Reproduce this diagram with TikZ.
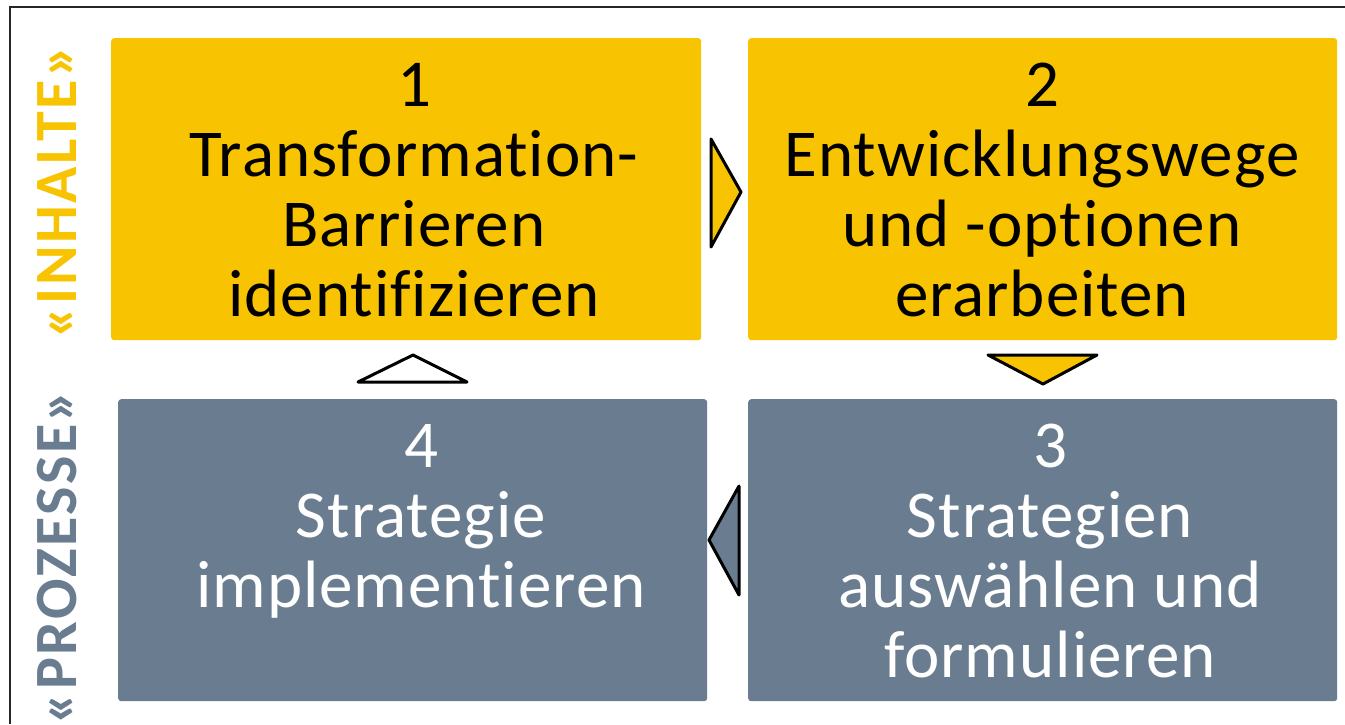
\documentclass[tikz,border=0pt]{standalone}
\usepackage{fontspec}
\setmainfont{Carlito}
\newfontfamily\boxfont[LetterSpace=1.5, Ligatures={NoCommon}]{Carlito}
\newfontfamily\labfont[LetterSpace=4]{Carlito Bold}
\usetikzlibrary{calc}
\definecolor{ygold}{RGB}{248,195,0}
\definecolor{sgrey}{RGB}{106,125,144}
\tikzset{
  boxshape/.style={rounded corners=3pt, inner sep=0pt, anchor=north west, minimum height=302pt},
  ybox/.style={boxshape, fill=ygold},
  gbox/.style={boxshape, fill=sgrey},
  txt/.style={anchor=north, inner sep=0pt, align=center, font=\boxfont\fontsize{67}{70}\selectfont},
  lab/.style={rotate=90, inner sep=0pt, font=\labfont\fontsize{60}{60}\selectfont},
  tri/.style={draw=black, line width=3pt, line join=round},
}
\begin{document}
\begin{tikzpicture}[x=1pt,y=-1pt]
\useasboundingbox (0,0) rectangle (1345,724);
\draw[line width=2pt, black!85] (10,724) -- (10,7) -- (1345,7);
\node[ybox, minimum width=590pt] (b1) at (111,38) {};
\node[ybox, minimum width=589pt] (b2) at (748,38) {};
\node[gbox, minimum width=589pt] (b3) at (748,399) {};
\node[gbox, minimum width=589pt] (b4) at (118,399) {};
\node[txt, text=black] (t1) at (414,63) {1\\Transformation-\\Barrieren\\identifizieren};
\node[txt, text=black] (t2) at (1042,63) {2\\Entwicklungswege\\und -optionen\\erarbeiten};
\node[txt, text=white] (t3) at (1050,424) {3\\Strategien\\auswählen und\\formulieren};
\node[txt, text=white] (t4) at (421,424) {4\\Strategie\\implementieren};
\node[lab, text=ygold] (l1) at (57,192) {«INHALTE»};
\node[lab, text=sgrey] (l2) at (57,557) {«PROZESSE»};
\draw[tri, fill=ygold] (711,139) -- (741,192) -- (711,247) -- cycle;
\draw[tri, fill=ygold] (988,355) -- (1097,355) -- (1043,384) -- cycle;
\draw[tri, fill=sgrey] (739,486) -- (709,540) -- (739,595) -- cycle;
\draw[tri, fill=white] (358,382) -- (413,355) -- (467,382) -- cycle;
\end{tikzpicture}
\end{document}
